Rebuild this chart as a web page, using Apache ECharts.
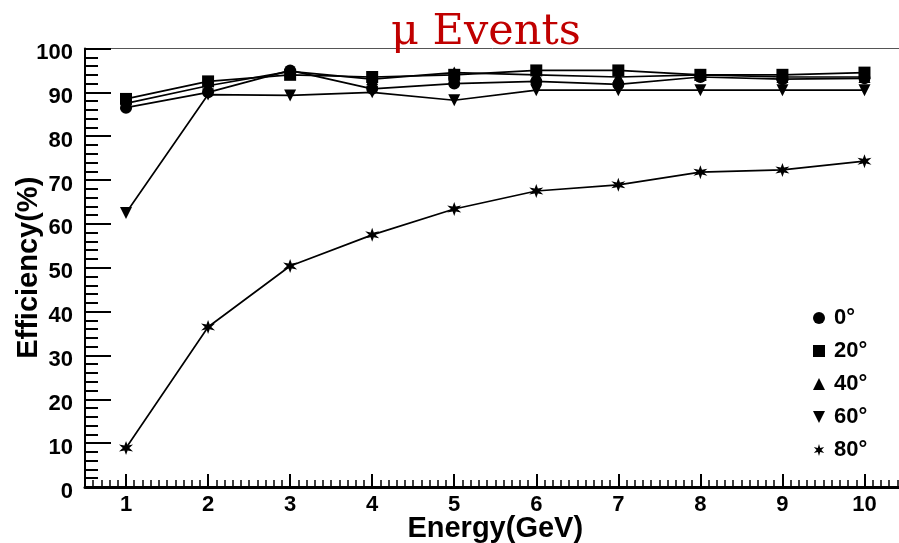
<!DOCTYPE html>
<html>
<head>
<meta charset="utf-8">
<script src="https://cdn.jsdelivr.net/npm/echarts@6/dist/echarts.min.js"></script>
<style>html,body{margin:0;padding:0;background:#fff}#c{width:899px;height:543px}</style>
</head>
<body>
<div id="c"></div>
<script>
const energy = [1, 2, 3, 4, 5, 6, 7, 8, 9, 10];
const angleLabels = ['0°', '20°', '40°', '60°', '80°'];
const eff0 = [86.5, 90.0, 95.0, 90.8, 92.0, 92.5, 91.8, 93.5, 93.0, 93.2];
const eff20 = [88.5, 92.5, 94.0, 93.5, 94.0, 95.0, 95.0, 94.0, 94.0, 94.5];
const eff40 = [87.5, 91.5, 94.8, 93.0, 94.5, 94.0, 93.5, 94.0, 93.5, 93.5];
const eff60 = [62.5, 89.5, 89.3, 90.0, 88.2, 90.5, 90.5, 90.5, 90.5, 90.5];
const eff80 = [8.9, 36.5, 50.4, 57.5, 63.4, 67.5, 68.9, 71.8, 72.3, 74.3];
const yTicks = [0, 10, 20, 30, 40, 50, 60, 70, 80, 90, 100];

const downTri = 'path://M0,0 L10,0 L5,10 Z';
const star6 = 'path://M10,0 L12,6.54 L18.66,5 L14,10 L18.66,15 L12,13.46 L10,20 L8,13.46 L1.34,15 L6,10 L1.34,5 L8,6.54 Z';
const symbols = ['circle', 'rect', 'triangle', downTri, star6];
const allData = [eff0, eff20, eff40, eff60, eff80];

const minorX = [];
for (let i = 5; i <= 105; i++) { if (i % 10 !== 0) minorX.push(i / 10); }

const chart = echarts.init(document.getElementById('c'));
const series = allData.map((vals, k) => ({
  name: angleLabels[k],
  type: 'line',
  xAxisIndex: 0,
  data: energy.map((e, i) => [e, vals[i]]),
  symbol: symbols[k],
  symbolSize: k === 4 ? 14 : 12,
  lineStyle: { color: '#000', width: 1.7 },
  itemStyle: { color: '#000' },
  emphasis: { disabled: true },
  animation: false,
  z: 3
}));

chart.setOption({
  animation: false,
  title: {
    text: 'μ Events',
    left: 386, top: 6,
    textStyle: { fontFamily: 'DejaVu Serif', fontWeight: 'normal', fontSize: 43, color: '#c00000' }
  },
  legend: {
    orient: 'vertical',
    left: 808, top: 302,
    itemWidth: 12, itemHeight: 12,
    itemGap: 11,
    data: angleLabels.map((n, k) => ({ name: n, icon: symbols[k] })),
    lineStyle: { width: 0, opacity: 0 },
    textStyle: { fontFamily: 'Liberation Sans', fontWeight: 'bold', fontSize: 22, color: '#000', padding: [0, 0, 0, 4] },
    selectedMode: false
  },
  grid: { left: 85, right: -6.5, top: 48.5, bottom: 56, show: true, borderColor: '#555', borderWidth: 1, containLabel: false, outerBoundsMode: 'none' },
  xAxis: [{
    type: 'value', min: 0.5, max: 10.5,
    name: 'Energy(GeV)', nameLocation: 'middle', nameGap: 27, nameMoveOverlap: false,
    nameTextStyle: { fontFamily: 'Liberation Sans', fontWeight: 'bold', fontSize: 29, color: '#000' },
    axisLine: { show: true, lineStyle: { color: '#000', width: 3 } },
    axisTick: { show: true, inside: true, length: 13, customValues: energy, lineStyle: { color: '#000', width: 2 } },
    axisLabel: { show: true, customValues: energy, margin: 7, fontFamily: 'Liberation Sans', fontWeight: 'bold', fontSize: 22, color: '#000' },
    splitLine: { show: false }
  }, {
    type: 'value', min: 0.5, max: 10.5, position: 'bottom',
    axisLine: { show: false },
    axisTick: { show: true, inside: true, length: 7, customValues: minorX, lineStyle: { color: '#000', width: 1.5 } },
    axisLabel: { show: false },
    splitLine: { show: false }
  }],
  yAxis: {
    type: 'value', min: 0, max: 100, interval: 10,
    name: 'Efficiency(%)', nameLocation: 'middle', nameGap: 42, nameMoveOverlap: false,
    nameTextStyle: { fontFamily: 'Liberation Sans', fontWeight: 'bold', fontSize: 29, color: '#000' },
    axisLine: { show: true, lineStyle: { color: '#000', width: 2 } },
    axisTick: { show: true, inside: true, length: 26, lineStyle: { color: '#000', width: 2 } },
    minorTick: { show: true, splitNumber: 5, length: 13, lineStyle: { color: '#000', width: 2 } },
    axisLabel: {
      margin: 12, fontFamily: 'Liberation Sans', fontWeight: 'bold', fontSize: 22, color: '#000',
      verticalAlign: 'top', lineHeight: 9,
      formatter: v => (yTicks.indexOf(v) >= 0 ? String(v) : '')
    },
    splitLine: { show: false }
  },
  series: series
});
</script>
</body>
</html>
